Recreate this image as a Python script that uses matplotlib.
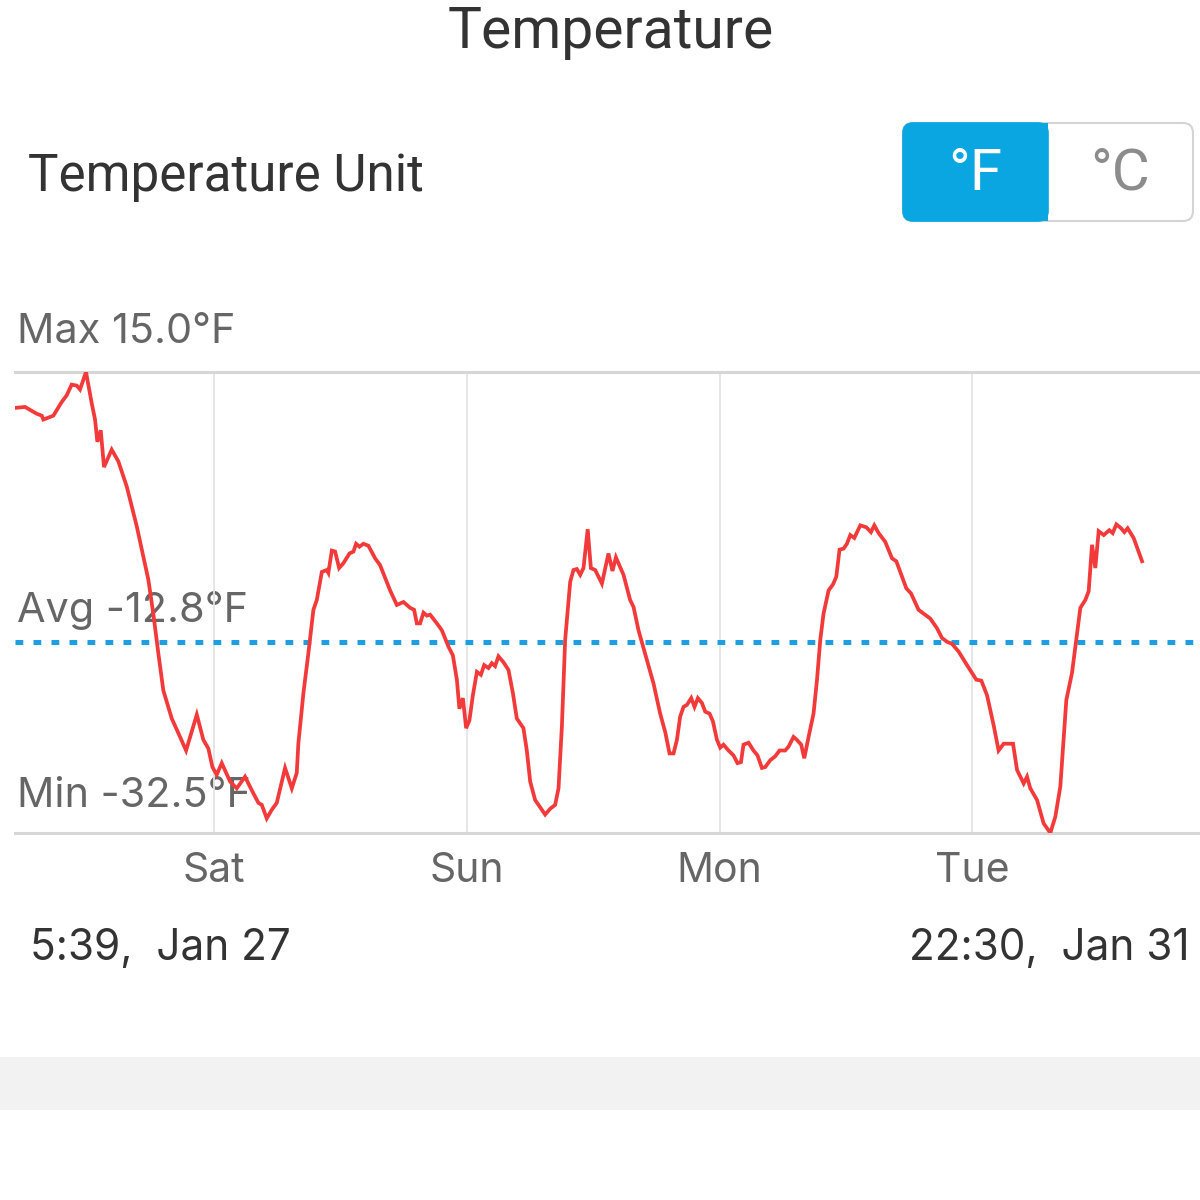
import matplotlib
matplotlib.use("Agg")
import matplotlib.pyplot as plt
from matplotlib.patches import FancyBboxPatch, Rectangle

plt.rcParams['font.family'] = ['Roboto', 'DejaVu Sans']
LABEL_FONT = ['Inter', 'DejaVu Sans']

# ---------------- data (hours since chart start, temperature in °F) ----------------
hours = [
    0, 0.95, 2.06, 2.54, 2.69, 3.64, 4.43, 4.91, 5.38, 5.86,
    6.17, 6.74, 7.28, 7.60, 7.82, 8.14, 8.45, 9.18, 9.81, 10.61,
    11.56, 12.18, 12.66, 13.13, 13.61, 14.08, 14.88, 15.67, 16.24, 17.26,
    17.88, 18.36, 18.74, 19.15, 19.63, 20.42, 21.05, 21.84, 22.48, 23.11,
    23.43, 23.90, 24.38, 24.85, 25.64, 26.28, 26.75, 26.90, 27.38, 27.85,
    28.33, 28.65, 29.13, 29.60, 29.75, 30.08, 30.39, 30.77, 31.18, 31.75,
    32.13, 32.38, 32.70, 33.08, 33.55, 34.19, 34.66, 35.61, 36.25, 36.88,
    37.51, 37.89, 38.15, 38.46, 38.78, 39.10, 39.41, 40.05, 40.52, 41.15,
    41.57, 41.95, 42.19, 42.52, 42.83, 43.14, 43.47, 43.85, 44.23, 44.54,
    44.95, 45.27, 45.58, 45.90, 46.37, 46.85, 47.27, 47.64, 48.27, 48.59,
    48.91, 49.38, 50.33, 50.81, 51.28, 51.60, 51.92, 52.23, 52.71, 53.02,
    53.34, 53.66, 53.97, 54.37, 54.67, 55.08, 55.72, 56.34, 56.72, 57.05,
    57.77, 58.40, 58.72, 59.19, 59.99, 60.62, 61.25, 61.73, 62.14, 62.52,
    62.84, 63.15, 63.47, 63.79, 64.20, 64.51, 64.83, 65.21, 65.53, 65.94,
    66.26, 66.64, 66.95, 67.26, 67.74, 68.21, 68.59, 68.92, 69.16, 69.64,
    70.11, 70.49, 70.91, 71.23, 71.70, 72.17, 72.58, 73.12, 73.44, 73.91,
    74.23, 74.64, 74.93, 75.34, 75.81, 76.14, 76.45, 76.76, 77.24, 77.65,
    77.97, 78.28, 78.66, 78.98, 79.30, 79.68, 80.25, 80.82, 81.26, 81.58,
    81.99, 82.62, 83.26, 83.67, 84.62, 85.06, 85.78, 86.26, 86.89, 87.53,
    88.00, 88.48, 88.95, 89.58, 90.38, 91.26, 91.74, 92.28, 92.91, 93.38,
    93.86, 94.75, 95.13, 95.76, 96.08, 96.39, 97.03, 97.65, 98.29, 98.77,
    99.24, 99.81, 100.35, 101.14, 101.61, 101.93, 102.25, 102.56, 102.88, 103.36,
    103.89, 104.21, 104.56, 105.01, 105.32, 105.63, 106.20, 107.0,
]
temps_f = [
    11.3, 11.4, 10.7, 10.5, 10.1, 10.5, 11.9, 12.6, 13.7, 13.6,
    13.2, 15.0, 11.8, 10.1, 7.8, 9.0, 5.2, 7.0, 5.8, 3.2,
    -0.9, -4.0, -6.4, -9.9, -14.0, -17.8, -20.7, -22.6, -24.0, -20.3,
    -22.9, -23.8, -25.7, -26.5, -25.3, -27.2, -27.9, -26.7, -28.1, -29.4,
    -29.6, -31.0, -30.1, -29.4, -25.8, -27.9, -26.3, -23.3, -18.1, -14.0,
    -9.5, -8.5, -5.6, -5.4, -5.7, -3.4, -3.5, -5.2, -4.7, -3.7,
    -3.5, -2.7, -3.0, -2.7, -2.9, -4.2, -4.9, -7.5, -9.0, -8.7,
    -9.3, -9.5, -10.9, -10.9, -9.8, -10.1, -10.0, -10.9, -11.6, -13.3,
    -14.2, -16.7, -19.7, -18.6, -21.7, -20.9, -18.3, -15.9, -16.2, -15.2,
    -15.5, -15.0, -15.3, -14.3, -14.9, -15.7, -18.1, -20.7, -21.7, -24.0,
    -27.2, -29.1, -30.6, -30.0, -29.6, -27.9, -21.5, -12.6, -6.6, -5.4,
    -5.3, -5.9, -5.2, -1.2, -5.2, -5.4, -6.8, -3.7, -5.5, -4.1,
    -5.9, -8.5, -9.2, -11.6, -14.7, -17.1, -20.2, -22.1, -24.3, -24.3,
    -22.9, -20.5, -19.5, -19.3, -18.6, -19.5, -18.6, -19.1, -20.0, -20.2,
    -21.0, -22.9, -23.7, -23.4, -24.0, -24.5, -25.3, -25.2, -23.4, -23.2,
    -24.0, -24.5, -25.8, -25.7, -25.0, -24.6, -24.0, -24.0, -23.6, -22.6,
    -22.9, -23.4, -24.8, -22.6, -20.2, -16.7, -12.6, -9.9, -7.5, -6.9,
    -6.1, -3.3, -3.2, -2.7, -1.8, -2.1, -0.8, -1.0, -1.5, -0.8,
    -1.6, -2.5, -4.2, -4.5, -7.3, -7.8, -9.5, -9.9, -10.4, -11.4,
    -12.4, -12.8, -13.0, -13.8, -15.2, -16.7, -16.8, -18.3, -21.4, -24.0,
    -23.3, -23.3, -26.0, -27.4, -26.7, -27.9, -29.1, -31.5, -32.5, -30.8,
    -27.7, -18.8, -16.0, -9.3, -8.5, -7.6, -2.8, -5.2, -1.4, -1.8,
    -1.3, -1.6, -0.7, -1.1, -1.5, -1.1, -2.1, -4.5,
]
n = min(len(hours), len(temps_f))
hours, temps_f = hours[:n], temps_f[:n]

t_max, t_avg, t_min = 15.0, -12.8, -32.5
day_names = ["Sat", "Sun", "Mon", "Tue"]
day_hours = [18.9, 42.9, 66.9, 90.9]
span_hours = 112.5
start_label = "5:39,  Jan 27"
end_label = "22:30,  Jan 31"

# ---------------- figure ----------------
W = H = 1200
fig = plt.figure(figsize=(12, 12), dpi=100, facecolor="white")

# overlay in pixel coordinates for the app chrome
ov = fig.add_axes([0, 0, 1, 1], zorder=0)
ov.set_xlim(0, W)
ov.set_ylim(H, 0)
ov.axis("off")

DARK = "#333333"
GREY = "#666666"
BLUE = "#0aa6e2"

ov.text(611, 48, "Temperature", fontsize=41, color=DARK, ha="center", va="baseline")
ov.text(28, 191, "Temperature Unit", fontsize=36.8, color=DARK, ha="left", va="baseline")

# segmented toggle
outer = FancyBboxPatch((903, 123), 290, 98, boxstyle="round,pad=0,rounding_size=10",
                       facecolor="white", edgecolor="#d4d4d4", linewidth=1.5)
ov.add_patch(outer)
blue = FancyBboxPatch((903, 123), 145, 98, boxstyle="round,pad=0,rounding_size=10",
                      facecolor=BLUE, edgecolor=BLUE, linewidth=1.2)
ov.add_patch(blue)
ov.add_patch(Rectangle((1030, 123), 18, 98, facecolor=BLUE, edgecolor="none"))
ov.text(975, 174, "°F", fontsize=42, color="white", ha="center", va="center")
ov.text(1120, 174, "°C", fontsize=42, color="#8c8c8c", ha="center", va="center")

# stat labels
ov.text(17, 343, f"Max {t_max:.1f}°F", fontsize=29.8, color=GREY, va="baseline",
        family=LABEL_FONT)
ov.text(17, 622, f"Avg {t_avg:.1f}°F", fontsize=29.8, color=GREY, va="baseline",
        family=LABEL_FONT)
ov.text(17, 807, f"Min {t_min:.1f}°F", fontsize=29.8, color=GREY, va="baseline",
        family=LABEL_FONT)

# date range labels
ov.text(30, 960, start_label, fontsize=30.5, color=DARK, ha="left", va="baseline",
        family=LABEL_FONT)
ov.text(1190, 960, end_label, fontsize=30.5, color=DARK, ha="right", va="baseline",
        family=LABEL_FONT)

# grey band
ov.add_patch(Rectangle((0, 1057), W, 53, facecolor="#f2f2f2", edgecolor="none"))

# ---------------- chart ----------------
ax = fig.add_axes([15 / W, 1 - 833 / H, 1185 / W, 461 / H], zorder=1)
ax.patch.set_alpha(0)
ax.set_xlim(0, span_hours)
ax.set_ylim(t_min, t_max)
for s in ax.spines.values():
    s.set_visible(False)
ax.set_yticks([])

for d in day_hours:
    ax.axvline(d, color="#e4e4e4", lw=1.3, zorder=1)
ax.axhline(t_max, color="#d6d6d6", lw=2.2, zorder=1, clip_on=False)
ax.axhline(t_min, color="#d6d6d6", lw=2.2, zorder=1, clip_on=False)

ax.axhline(t_avg, color="#1c9ee0", lw=3.6, ls=(0, (1.55, 2.05)), zorder=2)
ax.plot(hours, temps_f, color="#f23a3a", lw=2.7, zorder=3, solid_joinstyle="miter")

ax.set_xticks(day_hours, labels=day_names)
ax.tick_params(axis="x", length=0, pad=14, labelsize=29.5, labelcolor=GREY)
for lbl in ax.get_xticklabels():
    lbl.set_family(LABEL_FONT)

fig.savefig("out.png", dpi=100, facecolor="white")
